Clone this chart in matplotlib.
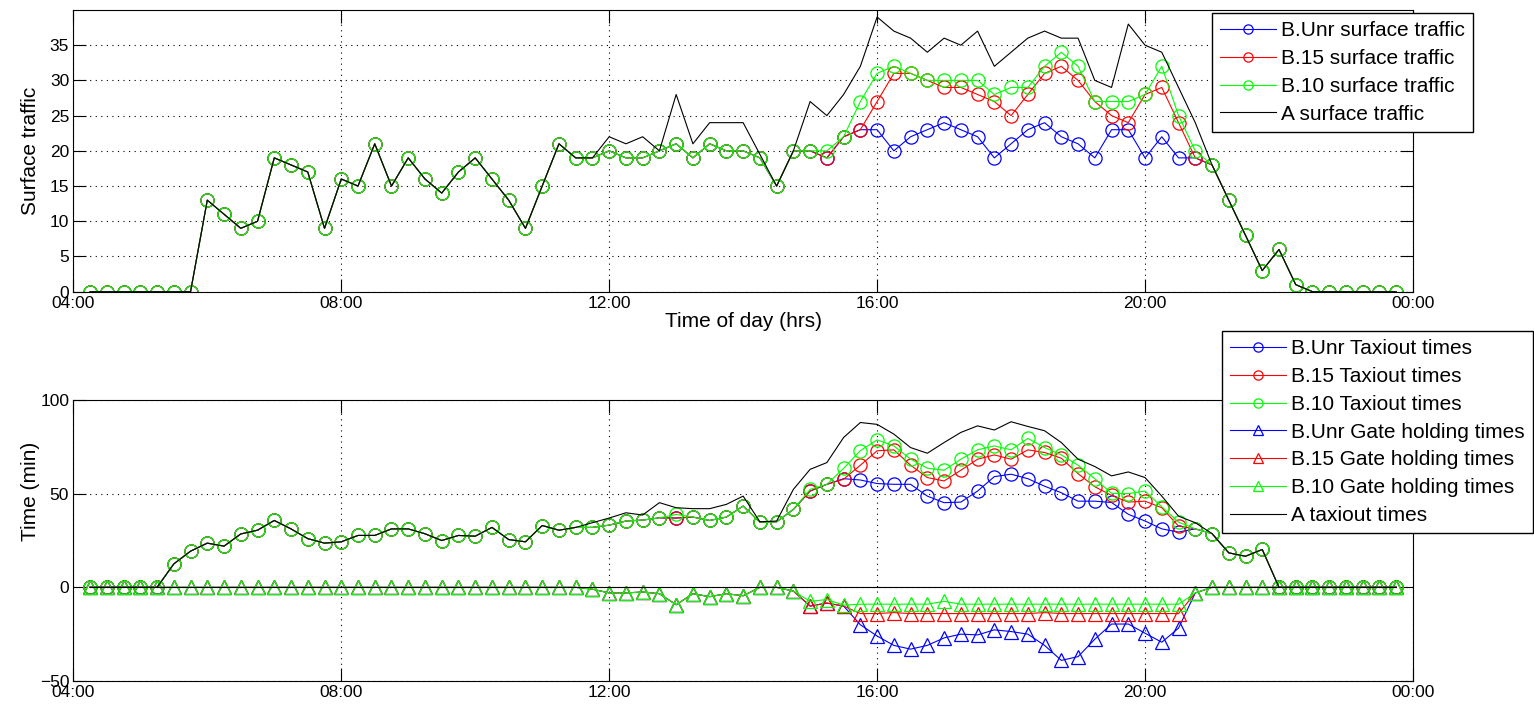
import numpy as np
import matplotlib.pyplot as plt

plt.rcParams['font.family'] = ['Liberation Sans', 'DejaVu Sans']

# 15-minute bins from 04:15 to 23:45, in hours of the day
hours = np.arange(4.25, 23.76, 0.25)

# surface traffic (aircraft on the surface)
surf_unr = [0, 0, 0, 0,  0, 0, 0, 13,  11, 9, 10, 19,  18, 17, 9, 16,
            15, 21, 15, 19,  16, 14, 17, 19,  16, 13, 9, 15,  21, 19, 19, 20,
            19, 19, 20, 21,  19, 21, 20, 20,  19, 15, 20, 20,  19, 22, 23, 23,
            20, 22, 23, 24,  23, 22, 19, 21,  23, 24, 22, 21,  19, 23, 23, 19,
            22, 19, 19, 18,  13, 8, 3, 6,  1, 0, 0, 0,  0, 0, 0]
surf_15 = [0, 0, 0, 0,  0, 0, 0, 13,  11, 9, 10, 19,  18, 17, 9, 16,
           15, 21, 15, 19,  16, 14, 17, 19,  16, 13, 9, 15,  21, 19, 19, 20,
           19, 19, 20, 21,  19, 21, 20, 20,  19, 15, 20, 20,  19, 22, 23, 27,
           31, 31, 30, 29,  29, 28, 27, 25,  28, 31, 32, 30,  27, 25, 24, 28,
           29, 24, 19, 18,  13, 8, 3, 6,  1, 0, 0, 0,  0, 0, 0]
surf_10 = [0, 0, 0, 0,  0, 0, 0, 13,  11, 9, 10, 19,  18, 17, 9, 16,
           15, 21, 15, 19,  16, 14, 17, 19,  16, 13, 9, 15,  21, 19, 19, 20,
           19, 19, 20, 21,  19, 21, 20, 20,  19, 15, 20, 20,  20, 22, 27, 31,
           32, 31, 30, 30,  30, 30, 28, 29,  29, 32, 34, 32,  27, 27, 27, 28,
           32, 25, 20, 18,  13, 8, 3, 6,  1, 0, 0, 0,  0, 0, 0]
surf_a = [0, 0, 0, 0,  0, 0, 0, 13,  11, 9, 10, 19,  18, 17, 9, 16,
          15, 21, 15, 19,  16, 14, 17, 19,  16, 13, 9, 15,  21, 19, 19, 22,
          21, 22, 20, 28,  21, 24, 24, 24,  19.5, 15, 20, 27,  25, 28, 32, 39,
          37, 36, 34, 36,  35, 37, 32, 34,  36, 37, 36, 36,  30, 29, 38, 35,
          34, 29, 24, 18,  13, 8, 3, 6,  1, 0, 0, 0,  0, 0, 0]

# taxi-out times (min)
taxi_unr = [0, 0, 0, 0,  0, 12.5, 19.3, 23.6,  22, 28.5, 30.5, 35.7,
            31.2, 26, 23.6, 24.3,  27.7, 27.7, 31.2, 31.2,  28.6, 25, 27.7, 27.3,
            32, 25.5, 24.3, 33,  30.5, 32, 32, 33.2,  35.4, 35.9, 37.1, 37,
            37.5, 35.7, 37.5, 43.4,  34.8, 35, 41.6, 51.4,  55, 58, 57.3, 55.4,
            55, 55, 48.7, 45.2,  45.5, 51.4, 59.1, 60.4,  58, 54, 50.5, 46,
            46, 45.3, 39, 35.4,  31.2, 29.5, 31.2, 28.7,  18.4, 16.6, 20.2, 0,
            0, 0, 0, 0,  0, 0, 0]
taxi_15 = [0, 0, 0, 0,  0, 12.5, 19.3, 23.6,  22, 28.5, 30.5, 35.7,
           31.2, 26, 23.6, 24.3,  27.7, 27.7, 31.2, 31.2,  28.6, 25, 27.7, 27.3,
           32, 25.5, 24.3, 33,  30.5, 32, 32, 33.2,  35.4, 35.9, 37.1, 37,
           37.5, 35.7, 37.5, 43.4,  34.8, 35, 41.6, 51.4,  55, 57.7, 65.2, 72.9,
           73.4, 65.2, 58.6, 56.8,  62.5, 68.4, 70.7, 68.4,  73.4, 72, 68.9, 60.7,
           53.7, 49.1, 45.5, 46,  42.5, 32.7, 31.2, 28.7,  18.4, 16.6, 20.2, 0,
           0, 0, 0, 0,  0, 0, 0]
taxi_10 = [0, 0, 0, 0,  0, 12.5, 19.3, 23.6,  22, 28.5, 30.5, 35.7,
           31.2, 26, 23.6, 24.3,  27.7, 27.7, 31.2, 31.2,  28.6, 25, 27.7, 27.3,
           32, 25.5, 24.3, 33,  30.5, 32, 32, 33.2,  35.4, 35.9, 37.1, 38.9,
           37.5, 35.7, 37.5, 43.4,  34.8, 35, 41.6, 52.3,  55, 63.5, 73, 78.7,
           75.5, 68.4, 63.6, 62.5,  68.4, 73.4, 75.5, 73.4,  79.5, 74.6, 70.7, 65.2,
           58, 50.2, 50, 51.4,  43, 34.8, 31.2, 28.7,  18.4, 16.6, 20.2, 0,
           0, 0, 0, 0,  0, 0, 0]
taxi_a = [0, 0, 0, 0,  0, 12.5, 19.3, 23.6,  22, 28.5, 30.5, 35.7,
          31.2, 26, 23.6, 24.3,  27.7, 27.7, 31.2, 31.2,  28.6, 25, 27.7, 27.3,
          32, 25.5, 24.3, 33,  30.5, 32, 34.5, 37,  39.8, 38.6, 45.2, 42.5,
          42, 42, 44.3, 48.7,  35, 35.4, 52.3, 63,  66.6, 80, 88, 87,
          81.8, 74.6, 71.6, 77.3,  82.7, 86.2, 84, 88.4,  85.9, 83.6, 77.3, 68.4,
          64.5, 59.5, 61.6, 58.6,  48.7, 38, 34.5, 28.7,  18.4, 16.6, 20.2, 0,
          0, 0, 0, 0,  0, 0, 0]

# gate holding times (min, drawn negative); A has none
gate_unr = [0] * 28 + [0, 0, -1, -3,  -3, -2.5, -3.4, -9.3,  -3.4, -5, -3.4, -4.5,
            0, 0, -2, -10,  -8.4, -10, -20, -26,  -31, -33, -31, -27,
            -25, -25.4, -22.7, -23.6,  -25, -31, -39, -37,  -27.7, -19.6, -19.6, -24.5,
            -29.3, -21.8, -3, 0,  0, 0, 0, 0,  0, 0, 0, 0,  0, 0, 0]
gate_15 = [0] * 28 + [0, 0, -1, -3,  -3, -2.5, -3.4, -9.3,  -3.4, -5, -3.4, -4.5,
           0, 0, -2, -10,  -8.4, -10, -14, -14,  -13.5, -14, -14, -14,
           -14, -14, -14, -14,  -14, -13.5, -14, -14,  -14, -14, -14, -14,
           -14, -14, -3, 0,  0, 0, 0, 0,  0, 0, 0, 0,  0, 0, 0]
gate_10 = [0] * 28 + [0, 0, -1, -3,  -3, -2.5, -3.4, -9.3,  -3.4, -5, -3.4, -4.5,
           0, 0, -2, -7.5,  -6.5, -9.5, -9, -9,  -9, -9, -9, -7.5,
           -9, -9, -9, -9,  -9, -9, -9, -9,  -9, -9, -9, -9,
           -9, -9, -3, 0,  0, 0, 0, 0,  0, 0, 0, 0,  0, 0, 0]
gate_a = [0] * 79

xticks = [4, 8, 12, 16, 20, 24]
xticklabels = ['04:00', '08:00', '12:00', '16:00', '20:00', '00:00']

circ = dict(marker='o', markersize=9.5, markerfacecolor='none', markeredgewidth=0.9, lw=0.8)
tri = dict(marker='^', markersize=10, markerfacecolor='none', markeredgewidth=0.9, lw=0.8)
leg = dict(loc='upper left', fontsize=15, fancybox=False, edgecolor='k',
           framealpha=1, markerscale=0.7, handlelength=2.65, labelspacing=0.42,
           borderpad=0.4, handletextpad=0.25, borderaxespad=0)


def style_axes(ax):
    ax.set_xlim(4, 24)
    ax.set_xticks(xticks)
    ax.set_xticklabels(xticklabels)
    ax.tick_params(direction='in', length=9.5, width=0.8, top=True, right=True,
                   labelsize=12.5, pad=3)
    ax.grid(True, color='k', linestyle=(0, (1, 4)), linewidth=0.8)
    for s in ax.spines.values():
        s.set_linewidth(0.8)


fig = plt.figure(figsize=(15.34, 7.07), dpi=100)
ax1 = fig.add_axes([0.0478, 0.5874, 0.8733, 0.3985])
ax2 = fig.add_axes([0.0478, 0.0368, 0.8733, 0.3974])

ax1.plot(hours, surf_unr, color='b', label='B.Unr surface traffic', **circ)
ax1.plot(hours, surf_15, color='r', label='B.15 surface traffic', **circ)
ax1.plot(hours, surf_10, color='#00ff00', label='B.10 surface traffic', **circ)
ax1.plot(hours, surf_a, color='k', lw=0.8, label='A surface traffic')
style_axes(ax1)
ax1.set_ylim(0, 40)
ax1.set_yticks(range(0, 40, 5))
ax1.set_ylabel('Surface traffic', fontsize=15)
ax1.yaxis.set_label_coords(-0.025, 0.5)
ax1.set_xlabel('Time of day (hrs)', fontsize=15, labelpad=1)
fig.legend(*ax1.get_legend_handles_labels(),
           bbox_to_anchor=(1212 / 1534, 1 - 13 / 707), **leg)

ax2.plot(hours, taxi_unr, color='b', label='B.Unr Taxiout times', **circ)
ax2.plot(hours, taxi_15, color='r', label='B.15 Taxiout times', **circ)
ax2.plot(hours, taxi_10, color='#00ff00', label='B.10 Taxiout times', **circ)
ax2.plot(hours, gate_unr, color='b', label='B.Unr Gate holding times', **tri)
ax2.plot(hours, gate_15, color='r', label='B.15 Gate holding times', **tri)
ax2.plot(hours, gate_10, color='#00ff00', label='B.10 Gate holding times', **tri)
ax2.plot(hours, taxi_a, color='k', lw=0.8, label='A taxiout times')
ax2.plot(hours, gate_a, color='k', lw=0.8)
style_axes(ax2)
ax2.set_ylim(-50, 100)
ax2.set_yticks([-50, 0, 50, 100])
ax2.set_ylabel('Time (min)', fontsize=15)
ax2.yaxis.set_label_coords(-0.025, 0.676)
h2, l2 = ax2.get_legend_handles_labels()
fig.legend(h2[:7], l2[:7], bbox_to_anchor=(1222 / 1534, 1 - 331 / 707), **leg)

fig.savefig('out.png', dpi=100)
